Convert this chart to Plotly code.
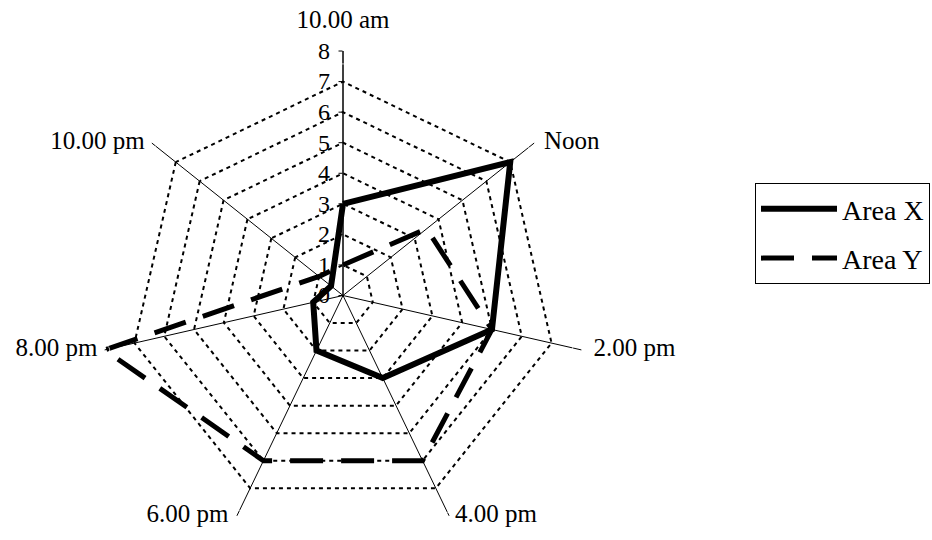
import plotly.graph_objects as go

# Categories around the clock and the two series
times = ["10.00 am", "Noon", "2.00 pm", "4.00 pm", "6.00 pm", "8.00 pm", "10.00 pm"]
area_x = [3, 7, 5, 3, 2, 1, 0.5]
area_y = [1, 3.5, 5, 6, 6, 8, 1]
radial_ticks = [0, 1, 2, 3, 4, 5, 6, 7, 8]
r_max = 8

FONT = "Liberation Serif, Times New Roman, serif"


def closed(values):
    """Repeat the first point so the polygon closes."""
    return list(values) + list(values[:1])


fig = go.Figure()
fig.add_trace(go.Scatterpolar(
    r=closed(area_x), theta=closed(times), mode="lines", name="Area X",
    legendgroup="x", line=dict(color="black", width=6),
))
fig.add_trace(go.Scatterpolar(
    r=closed(area_y), theta=closed(times), mode="lines", name="Area Y",
    legendgroup="y", line=dict(color="black", width=5, dash="33px,18px"),
))

# Category labels sit just beside the outer vertices
label_pos = ["top center", "middle right", "middle right", "middle right",
             "middle left", "middle left", "middle left"]
label_gap = [26, 14, 18, 8, 12, 10, 10]
fig.add_trace(go.Scatterpolar(
    r=[r_max] * len(times), theta=times, mode="markers+text", text=times,
    textposition=label_pos, showlegend=False, hoverinfo="skip",
    cliponaxis=False,
    marker=dict(size=label_gap, color="rgba(0,0,0,0)"),
    textfont=dict(family=FONT, size=25, color="black"),
))

W, H = 932, 540
cx, top, rad = 343, 51, 244.5

fig.update_layout(
    width=W, height=H,
    margin=dict(l=0, r=0, t=0, b=0),
    paper_bgcolor="white",
    font=dict(family=FONT, color="black", size=24),
    showlegend=True,
    polar=dict(
        domain=dict(x=[(cx - rad) / W, (cx + rad) / W], y=[0, 1 - top / H]),
        gridshape="linear",
        bgcolor="white",
        radialaxis=dict(
            range=[0, r_max + 0.001], tickvals=radial_ticks, angle=90,
            tickangle=90, ticksuffix="\u2002",
            showline=True, linecolor="black", linewidth=1,
            ticks="outside", ticklen=4, tickcolor="black",
            gridcolor="black", gridwidth=1.5, griddash="4px,4px",
            tickfont=dict(family=FONT, size=24, color="black"),
            side="counterclockwise", layer="below traces",
        ),
        angularaxis=dict(
            type="category", categoryarray=times,
            direction="clockwise", rotation=90,
            showline=False, gridcolor="black", gridwidth=1.2,
            ticks="", showticklabels=False,
            layer="below traces",
        ),
    ),
    legend=dict(
        x=755 / W, y=1 - 183 / H, xanchor="left", yanchor="top",
        bordercolor="black", borderwidth=1, bgcolor="white",
        font=dict(family=FONT, size=28, color="black"),
        itemwidth=76, tracegroupgap=10,
    ),
)

fig.write_html("out.html")
